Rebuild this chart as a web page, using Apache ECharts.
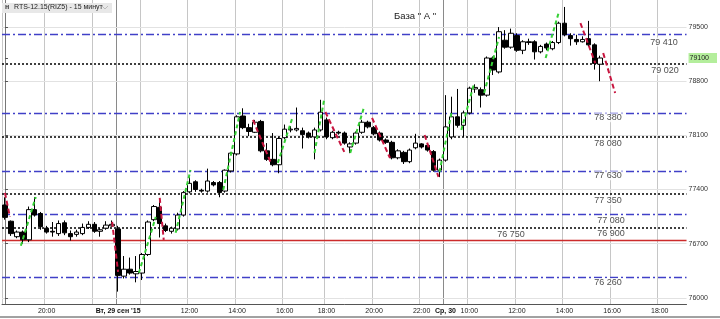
<!DOCTYPE html>
<html><head><meta charset="utf-8">
<script src="https://cdn.jsdelivr.net/npm/echarts@6/dist/echarts.min.js"></script>
<style>html,body{margin:0;padding:0;background:#fff}#c{width:720px;height:319px}</style>
</head><body><div id="c"></div>
<script>
// ---- categories (15-minute bars) ----
const categories = [
 '28 18:15','28 18:30','28 18:45','28 19:00','28 19:15','28 19:30','28 19:45','28 20:00','28 20:15','28 20:30',
 '28 20:45','28 21:00','28 21:15','28 21:30','28 21:45','28 22:00','28 22:15','28 22:30','28 22:45',
 '29 09:00','29 09:15','29 09:30','29 09:45','29 10:00','29 10:15','29 10:30','29 10:45','29 11:00','29 11:15',
 '29 11:30','29 11:45','29 12:00','29 12:15','29 12:30','29 12:45','29 13:00','29 13:15','29 13:30','29 13:45',
 '29 14:00','29 14:15','29 14:30','29 14:45','29 15:00','29 15:15','29 15:30','29 15:45','29 16:00','29 16:15',
 '29 16:30','29 16:45','29 17:00','29 17:15','29 17:30',
 '29 18:00','29 18:15','29 18:30','29 18:45','29 19:00','29 19:15','29 19:30','29 19:45','29 20:00','29 20:15',
 '29 20:30','29 20:45','29 21:00','29 21:15','29 21:30','29 21:45','29 22:00','29 22:15','29 22:30','29 22:45',
 '30 09:00','30 09:15','30 09:30','30 09:45','30 10:00','30 10:15','30 10:30','30 10:45','30 11:00','30 11:15',
 '30 11:30','30 11:45','30 12:00','30 12:15','30 12:30','30 12:45','30 13:00','30 13:15','30 13:30','30 13:45',
 '30 14:00','30 14:15','30 14:30','30 14:45','30 15:00','30 15:15','30 15:30',
 '30 15:45','30 16:00','30 16:15','30 16:30','30 16:45','30 17:00','30 17:15','30 17:30','30 17:45','30 18:00',
 '30 18:15','30 18:30','30 18:45','30 19:00'
];

// ---- OHLC values ----
const openV = [77200,76990,76790,76850,76750,77140,77090,76900,76860,76830,76970,76830,76820,76830,76910,76950,76860,76900,76930,
 76890,76280,76370,76310,76320,76560,77010,77170,76930,76860,76890,77070,77370,77500,77390,77380,77490,77490,77380,77640,
 77860,78350,78200,78140,78280,77900,77790,77720,78070,78170,78170,78160,78130,78080,78170,
 78300,78070,78140,78130,77950,78000,78140,78270,78200,78130,78040,78010,77810,77880,77760,77940,77990,77970,77890,77650,
 77780,78080,78340,78230,78390,78700,78690,78620,79100,78920,79330,79240,79390,79200,79310,79310,79180,79280,79220,79300,
 79550,79390,79340,79310,79350,79270,79020];
const highV = [77300,77000,76870,76870,77180,77300,77110,76930,76980,77000,77000,76870,76880,76960,76990,76980,76900,76990,77000,
 76930,76540,76520,76540,76580,77000,77200,77270,76960,76920,77100,77380,77560,77520,77410,77670,77510,77510,77660,77880,
 78360,78450,78250,78300,78300,78000,78130,78080,78240,78220,78460,78200,78150,78200,78560,
 78330,78160,78160,78150,78010,78150,78300,78290,78220,78150,78060,78030,77920,77900,77930,78120,78000,77990,77910,77800,
 78620,78600,78700,78420,78730,78760,78720,79120,79120,79500,79460,79480,79420,79330,79350,79330,79270,79300,79320,79570,
 79760,79420,79400,79380,79580,79290,79130];
const lowV = [77010,76800,76770,76700,76720,77050,76880,76830,76790,76800,76810,76740,76790,76810,76890,76840,76790,76880,76920,
 76080,76250,76300,76200,76230,76540,76990,76780,76850,76830,76870,77050,77350,77370,77360,77360,77440,77300,77360,77620,
 77840,78180,78090,78130,77880,77770,77700,77610,78050,78140,78150,77930,78060,77790,78150,
 78050,78050,78110,77980,77870,77980,78120,78190,78100,78020,77990,77790,77790,77730,77740,77920,77930,77890,77630,77560,
 77760,78050,78200,78080,78370,78650,78460,78600,78880,78900,79220,79220,79180,79150,79270,79080,79160,79200,79200,79280,
 79380,79260,79270,79300,79250,78950,78800];
const closeV = [77040,76830,76850,76750,77140,77070,76920,76850,76850,76960,76840,76790,76850,76910,76950,76860,76880,76940,76950,
 76290,76370,76320,76340,76560,76980,77180,76960,76870,76900,77070,77360,77480,77400,77380,77510,77460,77360,77650,77870,
 78340,78200,78150,78270,77900,77790,77720,78060,78180,78180,78190,78110,78080,78170,78400,
 78080,78140,78130,78000,77990,78130,78270,78210,78120,78040,78010,77810,77900,77760,77910,78000,77950,77910,77650,77780,
 78210,78340,78230,78390,78710,78720,78620,79100,78945,79440,79240,79420,79200,79310,79300,79180,79250,79230,79300,79550,
 79400,79350,79310,79340,79270,79030,79100];

// ---- axis ticks ----
const priceTicks = [79500, 78800, 78100, 77400, 76700, 76000];
const currentPrice = 79100;
const timeLabels = {7:'20:00', 19:"Вт, 29 сен '15", 31:'12:00', 39:'14:00', 47:'16:00', 54:'18:00', 62:'20:00',
  70:'22:00', 74:'Ср, 30', 78:'10:00', 86:'12:00', 94:'14:00', 102:'16:00', 110:'18:00'};
const timeGridIdx = [7, 15, 19, 23, 31, 39, 47, 54, 62, 70, 74, 78, 86, 94, 102, 110];
const dayStartIdx = [19, 74];

// ---- horizontal levels ----
const levelValues = [79410, 79020, 78380, 78080, 77630, 77350, 77080, 76900, 76750, 76260];
const levelLabels = ['79 410','79 020','78 380','78 080','77 630','77 350','77 080','76 900','76 750','76 260'];
const levelKinds  = ['dashdot','dot','dashdot','dot','dashdot','dot','dashdot','dot','solid','dashdot'];

// ---- zigzag legs [fromBar, fromPrice, toBar, toPrice] ----
const greenLegs = [[2.67,76672,5.17,77304],[22.5,76323,25.33,77046],[28.67,76840,31.17,77653],[36.67,77395,39.5,78402],
  [45.83,77744,48.33,78338],[52,77873,53.67,78583],[58,77873,60.33,78467],[73,77627,75,78389],[76.67,78170,78.83,78777],
  [80.5,78648,83,79371],[90.83,79100,93,79681]];
const redLegs = [[0,77356,0.83,77046],[18,76982,19,76336],[26,77292,26.67,76749],[41.67,78299,44.67,77744],
  [53.83,78402,57,77886],[61.67,78325,64.67,77808],[70.5,78105,72.83,77563],[96.67,79552,99.17,79035],[100.5,79164,102.5,78648]];

// ---- layout / style (not data) ----
const levelLabelX  = [110.7,110.9,101.3,101.3,101.3,101.3,101.8,101.8,85,101.3];
const levelLabelDy = [8,6,4,7,4,7,6,5,-5,5];
const styleOf = {
  dashdot: {color:'#4040c8', width:1.3, type:[8,3,2,3]},
  dot:     {color:'#111', width:1.6, type:[2,2]},
  solid:   {color:'#cc2b2b', width:1.3, type:'solid'}
};
const narrow = "'Liberation Sans Narrow','Liberation Sans',sans-serif";

const chart = echarts.init(document.getElementById('c'), null, {renderer:'canvas'});
const ohlc = openV.map((o,i)=>[o, closeV[i], lowV[i], highV[i]]);
const legs = (arr)=>arr.map(l=>({coords:[[l[0],l[1]],[l[2],l[3]]]}));

chart.setOption({
  animation:false,
  backgroundColor:'#fff',
  grid:{left:2, right:28, top:0, height:304},
  xAxis:[{
    type:'category', data:categories, boundaryGap:true,
    axisLine:{show:true, lineStyle:{color:'#555', width:1}},
    axisTick:{show:false},
    splitLine:{show:false},
    axisLabel:{interval:(i)=>timeLabels[i]!==undefined,
      formatter:(v,i)=> dayStartIdx.includes(i) ? '{d|'+timeLabels[i]+'}' : (timeLabels[i]||''),
      fontSize:7, color:'#222', margin:4, fontFamily:narrow,
      rich:{d:{fontSize:7, fontWeight:'bold', color:'#111', fontFamily:narrow}}}
  },{
    type:'value', min:-0.5, max:114.5, show:false
  }],
  yAxis:[{
    type:'value', position:'right', min:75920, max:79850, scale:true,
    axisLine:{show:true, lineStyle:{color:'#777'}},
    axisTick:{show:true, length:3, lineStyle:{color:'#555'}, customValues:priceTicks.concat([currentPrice])},
    splitLine:{show:false},
    axisLabel:{customValues:priceTicks.concat([currentPrice]), margin:2, fontSize:7, color:'#333', fontFamily:narrow,
      formatter:(v)=> v===currentPrice ? '{cur|'+v+'}' : String(v),
      rich:{cur:{backgroundColor:'#b4ee9c', color:'#222', fontSize:7, fontFamily:narrow, padding:[2,8,1,1]}}}
  }],
  series:[
    { // grid lines
      type:'line', xAxisIndex:1, yAxisIndex:0, data:[], z:0, silent:true,
      markLine:{z:0, silent:true, symbol:['none','none'], label:{show:false},
        data: timeGridIdx.map(i=>({xAxis:i-0.34, lineStyle:{color: dayStartIdx.includes(i)?'#8a8a8a':'#c6c6c6', width:1, type:'solid'}}))
          .concat([{xAxis:-0.5, lineStyle:{color:'#c8c8c8', width:1, type:'solid'}}])
          .concat(priceTicks.map(v=>({yAxis:v, lineStyle:{color:'#e2e2e2', width:1, type:'solid'}})))
      }
    },
    { // levels
      type:'line', xAxisIndex:1, yAxisIndex:0, data:[], z:1, silent:true,
      markLine:{z:1, silent:true, symbol:['none','none'], label:{show:false},
        data: levelValues.map((v,k)=>({yAxis:v, lineStyle:styleOf[levelKinds[k]]}))}
    },
    {
      type:'candlestick', xAxisIndex:0, yAxisIndex:0, data:ohlc, barWidth:5, z:2, silent:true,
      itemStyle:{color:'#fff', color0:'#000', borderColor:'#000', borderColor0:'#000', borderWidth:1}
    },
    {
      type:'lines', coordinateSystem:'cartesian2d', xAxisIndex:1, yAxisIndex:0, z:3, silent:true,
      data:legs(greenLegs), lineStyle:{color:'#35d035', width:2, type:[4,3], opacity:1}
    },
    {
      type:'lines', coordinateSystem:'cartesian2d', xAxisIndex:1, yAxisIndex:0, z:3, silent:true,
      data:legs(redLegs), lineStyle:{color:'#c8153f', width:2, type:[5,3], opacity:1}
    },
    { // level labels
      type:'scatter', xAxisIndex:1, yAxisIndex:0, z:6, silent:true, symbolSize:0,
      data: levelValues.map((v,k)=>({value:[levelLabelX[k], v],
        label:{show:true, position:'inside', formatter:levelLabels[k], offset:[0, levelLabelDy[k]],
          fontSize:9, color:'#1a1a1a', fontFamily:"'Liberation Sans',sans-serif", backgroundColor:'#fff', padding:[0,2]}}))
    }
  ],
  graphic:[
    {type:'rect', shape:{x:2, y:3, width:110, height:10}, style:{fill:'#e8e8e8'}, z:10},
    {type:'text', x:5, y:4, style:{text:'н', fontSize:7, fontWeight:'bold', fill:'#333', fontFamily:narrow}, z:11},
    {type:'text', x:14, y:4, style:{text:'RTS-12.15(RIZ5) - 15 минут', fontSize:7, fill:'#222', fontFamily:narrow}, z:11},
    {type:'polyline', shape:{points:[[102,6],[105,9],[108,6]]}, style:{stroke:'#bbb', lineWidth:1, fill:null}, z:11},
    {type:'text', x:394, y:11, style:{text:'База " А "', fontSize:9.5, fill:'#222', fontFamily:"'Liberation Sans',sans-serif"}, z:11},
    {type:'line', shape:{x1:0, y1:317, x2:720, y2:317}, style:{stroke:'#444', lineWidth:1}, z:11}
  ]
});
</script></body></html>
